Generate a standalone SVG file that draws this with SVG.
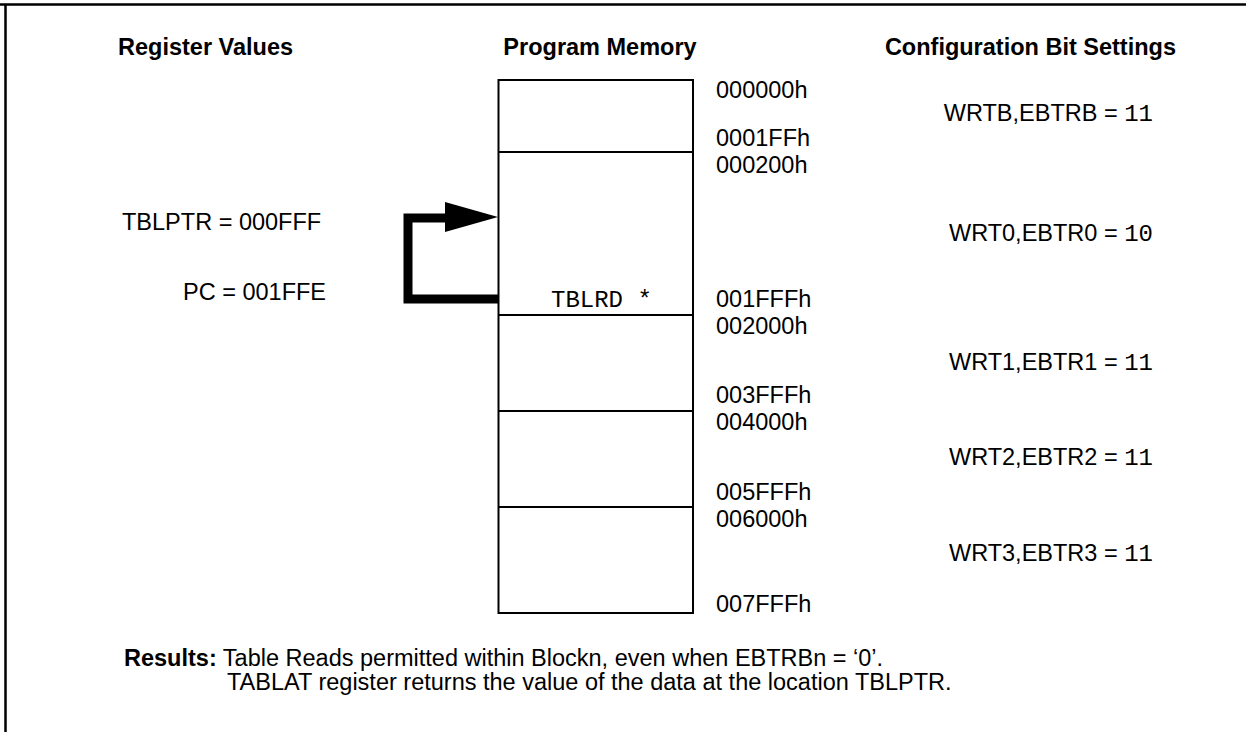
<svg xmlns="http://www.w3.org/2000/svg" width="1246" height="732" viewBox="0 0 1246 732">
<style>
.t{font-family:"Liberation Sans",Arial,sans-serif;font-size:23.5px;fill:#000}
.b{font-family:"Liberation Sans",Arial,sans-serif;font-size:23.5px;font-weight:bold;fill:#000}
.m{font-family:"Liberation Mono","Courier New",monospace;font-size:24px;fill:#000}
.box{fill:#fff;stroke:#000;stroke-width:2}
.ln{stroke:#000;stroke-width:2}
.frame{stroke:#000;stroke-width:2.5;fill:none}
</style>
<rect x="0" y="0" width="1246" height="732" fill="#fff"/>
<path class="frame" d="M0 4.5 H1246 M5.5 4.5 V732"/>
<g id="titles">
<text class="b" x="118" y="55">Register Values</text>
<text class="b" x="600" y="55" text-anchor="middle">Program Memory</text>
<text class="b" x="1176" y="55" text-anchor="end">Configuration Bit Settings</text>
</g>
<g id="register-values">
<text class="t" x="122" y="230">TBLPTR = 000FFF</text>
<text class="t" x="183" y="300">PC = 001FFE</text>
</g>
<g id="program-memory">
<rect class="box" x="498.5" y="80" width="194.5" height="533"/>
<line class="ln" x1="498.5" y1="152" x2="693" y2="152"/>
<line class="ln" x1="498.5" y1="315" x2="693" y2="315"/>
<line class="ln" x1="498.5" y1="411" x2="693" y2="411"/>
<line class="ln" x1="498.5" y1="507" x2="693" y2="507"/>
<text class="m" x="551" y="307">TBLRD *</text>
</g>
<g id="addresses">
<text class="t" x="716" y="98">000000h</text>
<text class="t" x="716" y="146">0001FFh</text>
<text class="t" x="716" y="173">000200h</text>
<text class="t" x="716" y="307">001FFFh</text>
<text class="t" x="716" y="334">002000h</text>
<text class="t" x="716" y="403">003FFFh</text>
<text class="t" x="716" y="430">004000h</text>
<text class="t" x="716" y="500">005FFFh</text>
<text class="t" x="716" y="527">006000h</text>
<text class="t" x="716" y="612">007FFFh</text>
</g>
<g id="config-bits">
<text class="t" x="1153" y="121" text-anchor="end">WRTB,EBTRB = <tspan class="m">11</tspan></text>
<text class="t" x="1153" y="241" text-anchor="end">WRT0,EBTR0 = <tspan class="m">10</tspan></text>
<text class="t" x="1153" y="370" text-anchor="end">WRT1,EBTR1 = <tspan class="m">11</tspan></text>
<text class="t" x="1153" y="465" text-anchor="end">WRT2,EBTR2 = <tspan class="m">11</tspan></text>
<text class="t" x="1153" y="561" text-anchor="end">WRT3,EBTR3 = <tspan class="m">11</tspan></text>
</g>
<g id="connectors">
<path d="M498 299 H408 V218 H447" fill="none" stroke="#000" stroke-width="9" stroke-linejoin="miter"/>
<polygon points="445,202 498,217 445,232" fill="#000"/>
</g>
<g id="results">
<text class="t" x="124" y="666"><tspan class="b">Results:</tspan> Table Reads permitted within Blockn, even when EBTRBn = ‘0’.</text>
<text class="t" x="227" y="690">TABLAT register returns the value of the data at the location TBLPTR.</text>
</g>
</svg>
